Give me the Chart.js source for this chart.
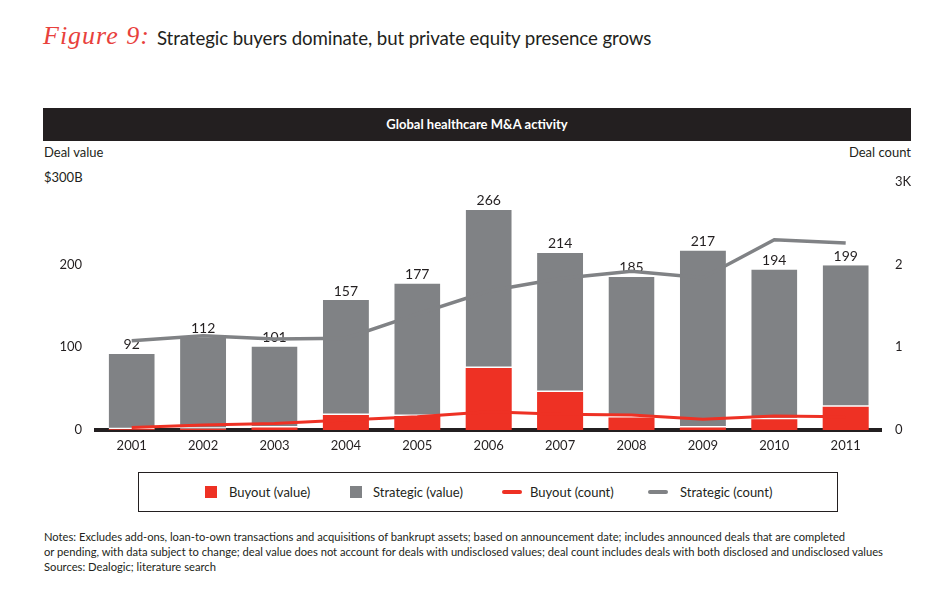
<!DOCTYPE html>
<html>
<head>
<meta charset="utf-8">
<script src="https://cdn.jsdelivr.net/npm/chart.js@4"></script>
<style>
  body { margin: 0; background: #fff; width: 950px; height: 602px; position: relative; overflow: hidden; font-family: Lato, 'Open Sans', sans-serif; color: #231f20; }
  .abs { position: absolute; white-space: nowrap; }
  #fig { left: 43px; top: 21px; font-family: 'Liberation Serif', serif; font-style: italic; font-size: 26px; letter-spacing: 1px; color: #e8413c; }
  #title { left: 157px; top: 27px; font-size: 18.7px; letter-spacing: -0.1px; }
  #band { left: 43px; top: 108px; width: 868px; height: 33px; background: #231f20; color: #fff; font-weight: bold; font-size: 13px; line-height: 33px; text-align: center; }
  .lab { font-size: 13px; }
  #chartBox { left: 0; top: 160px; width: 950px; height: 300px; }
  #legend { left: 138px; top: 472px; width: 698px; height: 38px; border: 1px solid #231f20; }
  .sw { position: absolute; }
  .lt { position: absolute; top: 11px; font-size: 13px; }
  .notes { left: 44px; font-size: 11.2px; }
</style>
</head>
<body>
<div class="abs" id="fig">Figure 9:</div>
<div class="abs" id="title">Strategic buyers dominate, but private equity presence grows</div>
<div class="abs" id="band">Global healthcare M&amp;A activity</div>
<div class="abs lab" style="left:44px; top:144px;">Deal value</div>
<div class="abs lab" style="right:39px; top:144px;">Deal count</div>
<div class="abs lab" style="left:44px; top:169px;">$300B</div>
<div class="abs" id="chartBox"><canvas id="mainChart"></canvas></div>
<div class="abs" id="legend">
  <div class="sw" style="left:66px; top:13px; width:12px; height:12px; background:#ee3124;"></div>
  <div class="lt" style="left:90px;">Buyout (value)</div>
  <div class="sw" style="left:211px; top:13px; width:12px; height:12px; background:#808285;"></div>
  <div class="lt" style="left:234px;">Strategic (value)</div>
  <div class="sw" style="left:363px; top:17px; width:20px; height:4px; border-radius:2px; background:#ee3124;"></div>
  <div class="lt" style="left:391px;">Buyout (count)</div>
  <div class="sw" style="left:509px; top:17px; width:20px; height:4px; border-radius:2px; background:#808285;"></div>
  <div class="lt" style="left:541px;">Strategic (count)</div>
</div>
<div class="abs notes" style="top:530px;">Notes: Excludes add-ons, loan-to-own transactions and acquisitions of bankrupt assets; based on announcement date; includes announced deals that are completed</div>
<div class="abs notes" style="top:545px;">or pending, with data subject to change; deal value does not account for deals with undisclosed values; deal count includes deals with both disclosed and undisclosed values</div>
<div class="abs notes" style="top:560px;">Sources: Dealogic; literature search</div>

<script>
const years = ['2001', '2002', '2003', '2004', '2005', '2006', '2007', '2008', '2009', '2010', '2011'];
const totals = [92, 112, 101, 157, 177, 266, 214, 185, 217, 194, 199];
const buyoutValue = [1, 1.5, 3, 18, 17, 75, 46, 15, 3, 13, 28];
const buyoutCount = [0.03, 0.06, 0.08, 0.12, 0.16, 0.22, 0.19, 0.18, 0.13, 0.17, 0.16];
const strategicCount = [1.08, 1.14, 1.10, 1.11, 1.40, 1.68, 1.83, 1.92, 1.84, 2.30, 2.26];

const strategicValue = totals.map((t, i) => t - buyoutValue[i]);

const red = '#ee3124';
const grey = '#808285';
const ink = '#231f20';
const font = 'Lato';

// totals drawn right after the grey bars, so the lines pass over them
const totalLabels = {
    id: 'totalLabels',
    afterDatasetDraw(chart, args) {
        if (args.index !== 1) return;
        const ctx = chart.ctx;
        ctx.save();
        ctx.fillStyle = ink;
        ctx.font = '14px ' + font;
        ctx.textAlign = 'center';
        ctx.textBaseline = 'bottom';
        args.meta.data.forEach((bar, i) => {
            ctx.fillText(totals[i], bar.x, bar.y - 2);
        });
        ctx.restore();
    }
};

const ctx = document.getElementById('mainChart').getContext('2d');
const mainChart = new Chart(ctx, {
    type: 'bar',
    data: {
        labels: years,
        datasets: [
            {
                label: 'Buyout (value)',
                data: buyoutValue,
                backgroundColor: red,
                barPercentage: 0.645,
                categoryPercentage: 1,
                order: 1,
            },
            {
                label: 'Strategic (value)',
                data: strategicValue,
                backgroundColor: grey,
                borderColor: '#ffffff',
                borderWidth: { top: 0, left: 0, right: 0, bottom: 1.5 },
                borderSkipped: false,
                barPercentage: 0.645,
                categoryPercentage: 1,
                order: 1,
            },
            {
                type: 'line',
                label: 'Buyout (count)',
                data: buyoutCount,
                yAxisID: 'y2',
                borderColor: red,
                borderWidth: 3,
                pointRadius: 0,
                tension: 0,
                order: 0,
            },
            {
                type: 'line',
                label: 'Strategic (count)',
                data: strategicCount,
                yAxisID: 'y2',
                borderColor: grey,
                borderWidth: 3.5,
                pointRadius: 0,
                tension: 0,
                order: 0,
            }
        ]
    },
    options: {
        responsive: true,
        maintainAspectRatio: false,
        animation: false,
        layout: { padding: { top: 18, left: 0, right: 0, bottom: 0 } },
        scales: {
            x: {
                stacked: true,
                grid: { display: false, drawTicks: false },
                border: { display: true, color: ink, width: 4 },
                ticks: { color: ink, font: { family: font, size: 13 }, padding: 8 },
                afterFit: s => { s.height = 30; }
            },
            y: {
                stacked: true,
                position: 'left',
                min: 0,
                max: 300,
                grid: { display: false, drawTicks: false },
                border: { display: false },
                ticks: {
                    stepSize: 100,
                    color: ink,
                    font: { family: font, size: 13 },
                    padding: 14,
                    callback: v => v === 300 ? '' : v
                },
                afterFit: s => { s.width = 96; }
            },
            y2: {
                position: 'right',
                min: 0,
                max: 3,
                grid: { display: false, drawTicks: false },
                border: { display: false },
                ticks: {
                    stepSize: 1,
                    color: ink,
                    font: { family: font, size: 13 },
                    padding: 13.6,
                    callback: v => v === 3 ? '3K' : v
                },
                afterFit: s => { s.width = 68.6; }
            }
        },
        plugins: {
            legend: { display: false },
            tooltip: { enabled: false }
        }
    },
    plugins: [totalLabels]
});
</script>
</body>
</html>
